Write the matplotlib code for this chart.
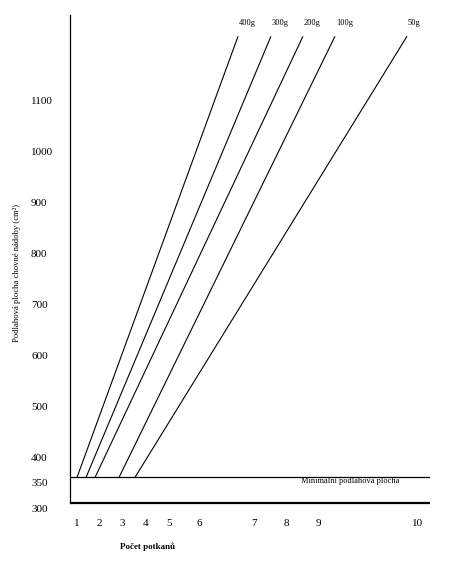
import numpy as np
import matplotlib
matplotlib.use("Agg")
import matplotlib.pyplot as plt

# ---- data ----
weights = ["400g", "300g", "200g", "100g", "50g"]
rats_start = [1.0, 1.41, 1.82, 2.87, 3.54]      # number of rats where each line starts
rats_end = [6.71, 7.53, 8.53, 9.17, 9.89]       # number of rats at the top end
area_start = [360, 360, 360, 360, 360]          # cm2
area_end = [1225, 1225, 1225, 1225, 1225]       # cm2
min_area = 360
base_area = 310
x_ticks = [1, 2, 3, 4, 5, 6, 7, 8, 9, 10]
y_ticks = [300, 350, 400, 500, 600, 700, 800, 900, 1000, 1100]

# ---- layout: uneven x-axis spacing as drawn in the original ----
_cnt = np.array([0, 1, 2, 3, 4, 5, 6, 7, 8, 9, 10, 11], dtype=float)
_pos = np.array([55, 77, 99, 122, 146, 169, 199, 254, 286, 318, 418, 518], dtype=float)

def fwd(x):
    return np.interp(np.asarray(x, dtype=float), _cnt, _pos)

def inv(p):
    return np.interp(np.asarray(p, dtype=float), _pos, _cnt)

FONT = "Liberation Serif"
plt.rcParams["font.family"] = [FONT, "DejaVu Serif"]

W, H = 453, 565
fig = plt.figure(figsize=(W / 100, H / 100), dpi=100)
ax = fig.add_axes([70 / W, 1 - 508 / H, 360 / W, (508 - 15) / H])
ax.set_xscale("function", functions=(fwd, inv))
ax.set_xlim(float(inv(70)), float(inv(430)))
ax.set_ylim(300, 1266.7)

for w, x0, x1, y0, y1 in zip(weights, rats_start, rats_end, area_start, area_end):
    ax.plot([x0, x1], [y0, y1], color="black", lw=0.8, solid_capstyle="butt")
    ax.annotate(w, xy=(x1, y1), xytext=(1, 13), textcoords="offset pixels",
                ha="left", va="center", fontsize=6)

ax.axhline(min_area, color="black", lw=0.9)
ax.axhline(base_area, color="black", lw=1.6)
ax.text(float(inv(350)), min_area - 8, "Minimální podlahová plocha",
        ha="center", va="center", fontsize=6)

for s in ["top", "right", "bottom"]:
    ax.spines[s].set_visible(False)
ax.spines["left"].set_bounds(base_area, 1266.7)
ax.spines["left"].set_linewidth(0.9)

ax.set_xticks(x_ticks)
ax.set_xticklabels([str(t) for t in x_ticks])
ax.minorticks_off()
ax.tick_params(axis="x", length=0, pad=8, labelsize=8)
ax.set_yticks(y_ticks)
ax.set_yticklabels([str(t) for t in y_ticks])
ax.tick_params(axis="y", length=0, pad=28, labelsize=8)
for lab in ax.get_yticklabels():
    lab.set_horizontalalignment("left")

fig.text(148 / W, 1 - 547 / H, "Počet potkanů", ha="center", va="center",
         fontsize=6.5, fontweight="bold")
fig.text(17 / W, 1 - 273 / H, "Podlahová plocha chovné nádoby (cm²)",
         ha="center", va="center", rotation=90, fontsize=6.2)

fig.savefig("out.png", dpi=100)
